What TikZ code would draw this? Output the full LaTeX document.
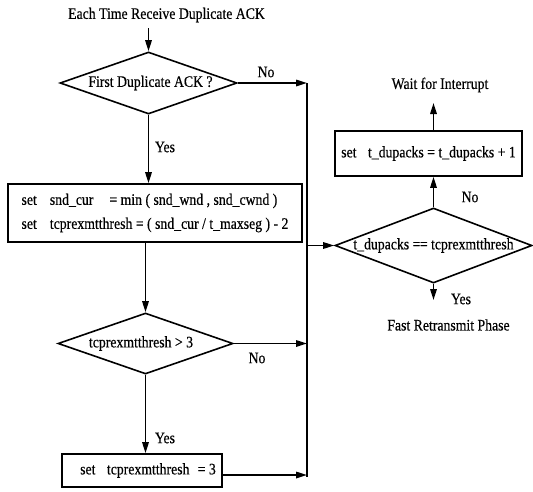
\documentclass[tikz,border=0pt]{standalone}
\usepackage{fontspec}
\setmainfont[FakeStretch=0.86,FakeBold=0.4]{Liberation Serif}
\usetikzlibrary{shapes.geometric,arrows.meta}
\begin{document}
\begin{tikzpicture}[x=1pt,y=-1pt,
  every node/.style={font=\fontsize{16}{18}\selectfont, inner sep=0pt},
  line/.style={line width=1.6pt},
  arr/.style={line width=1.6pt,-{Triangle[length=11pt,width=6.5pt]}},
  dec/.style={diamond, draw, line width=1.6pt, aspect=1},
  box/.style={rectangle, draw, line width=1.6pt}]
\useasboundingbox (0,0) rectangle (533,491);
% nodes
\node (title) at (166.5,15) {Each Time Receive Duplicate ACK};
\node[dec, minimum width=177pt, minimum height=62pt] (d1) at (148.5,83) {\makebox[0pt]{\hspace*{4pt}First Duplicate ACK ?}};
\node[box, minimum width=294pt, minimum height=58pt, align=left, font=\fontsize{16}{24}\selectfont] (b1) at (155,213)
  {set\hspace{0.6em} snd\_cur\hspace{1em}= min ( snd\_wnd , snd\_cwnd )\\
   set\hspace{0.6em} tcprexmtthresh = ( snd\_cur / t\_maxseg ) - 2};
\node[dec, minimum width=175pt, minimum height=61pt] (d2) at (145.5,343.5) {\makebox[0pt]{\hspace*{-9pt}tcprexmtthresh > 3}};
\node[box, minimum width=160pt, minimum height=33pt] (b3) at (142,470.5) {\hspace*{12pt}set\hspace{0.5em} tcprexmtthresh\hspace{0.3em} = 3};
\node[dec, minimum width=197pt, minimum height=75pt] (d3) at (433.5,245.5) {\makebox[0pt]{t\_dupacks =\kern-0.5pt= tcprexmtthresh}};
\node[box, minimum width=187pt, minimum height=45pt] (b2) at (428.5,153.5) {set\hspace{0.5em} t\_dupacks = t\_dupacks + 1};
\node (wait) at (440,85) {Wait for Interrupt};
\node (fast) at (448.5,325) {Fast Retransmit Phase};
% labels
\node (no1) at (266,72) {No};
\node (yes1) at (165,147) {Yes};
\node (no2) at (257,358) {No};
\node (yes2) at (165,438) {Yes};
\node (no3) at (470,197) {No};
\node (yes3) at (461,299) {Yes};
% coordinates
\coordinate (t0) at (148.5,28);
\coordinate (v1) at (307,83);
\coordinate (v2) at (307,477);
\coordinate (wt) at (434.5,103);
\coordinate (ft) at (435,300);
% connectors
\draw[line] (v1) -- (v2);
\draw[arr] (t0) -- (d1.north);
\draw[arr] (d1.east) -- (d1.east -| v1);
\draw[arr] (d1.south) -- (d1.south |- b1.north);
\draw[arr] (b1.south -| d2.north) -- (d2.north);
\draw[arr] (d2.east) -- (d2.east -| v1);
\draw[arr] (d2.south) -- (d2.south |- b3.north);
\draw[arr] ([yshift=-4.5pt]b3.east) -- ([yshift=-4.5pt]b3.east -| v1);
\draw[arr] (v1 |- d3.west) -- (d3.west);
\draw[arr] (d3.north) -- (d3.north |- b2.south);
\draw[arr] (d3.north |- b2.north) -- (d3.north |- wt);
\draw[arr] (d3.south) -- (d3.south |- ft);
\end{tikzpicture}
\end{document}
